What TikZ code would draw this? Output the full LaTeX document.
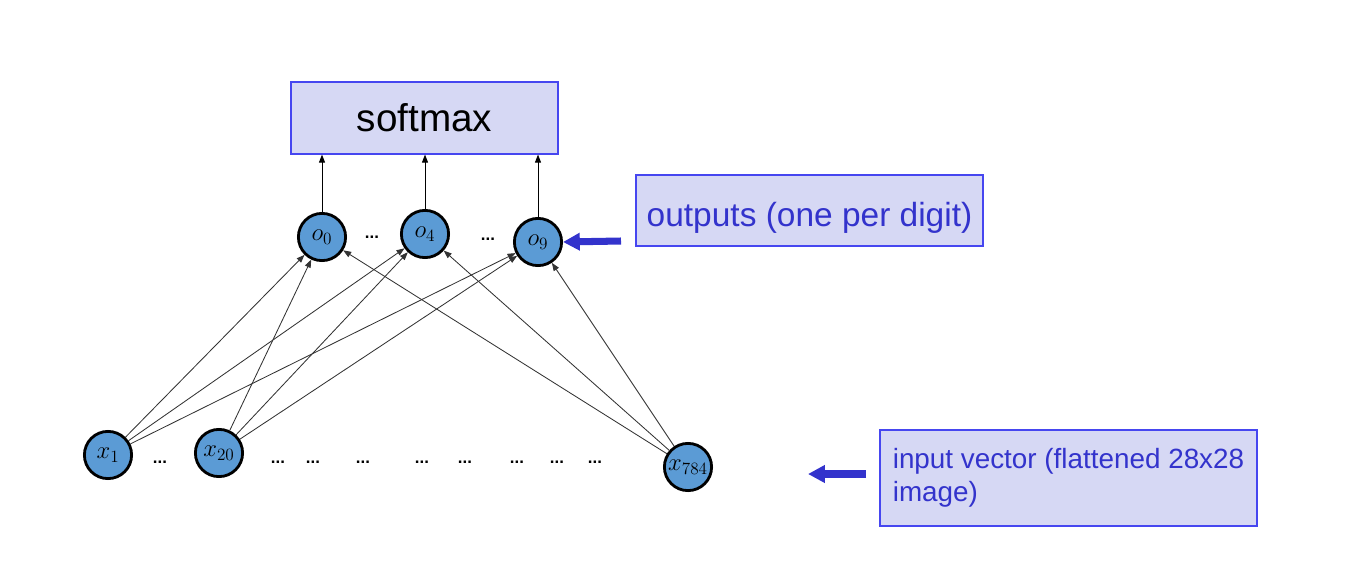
\RequirePackage{fix-cm}
\documentclass[tikz,border=0pt]{standalone}
\usepackage{fontspec}
\setmainfont{Liberation Sans}
\usepackage{amsmath}
\usetikzlibrary{positioning,arrows.meta}
\definecolor{SlideBlue}{RGB}{51,51,204}
\definecolor{BoxFill}{RGB}{214,216,244}
\definecolor{BoxLine}{RGB}{70,70,240}
\definecolor{NeuronBlue}{RGB}{91,155,213}

\begin{document}
\begin{tikzpicture}[x=0.025cm, y=-0.025cm]
	\tikzset{
		neuron/.style={
			shape=circle,
			draw=black,
			line width=2pt,
			fill=NeuronBlue,
			minimum size=1.18cm,
			inner sep=0pt,
			font=\fontsize{17.5}{17.5}\selectfont
		},
		smbox/.style={
			draw=BoxLine,
			line width=0.8pt,
			fill=BoxFill,
			minimum width=6.675cm,
			minimum height=1.8cm,
			font=\fontsize{27.5}{30}\selectfont
		},
		notebox/.style={
			draw=BoxLine,
			line width=0.8pt,
			fill=BoxFill,
			text=SlideBlue,
			align=left,
			inner sep=0pt
		},
		gap/.style={font=\fontsize{12}{12}\selectfont\bfseries},
		wedge/.style={draw=black!80, line width=0.6pt, -{Triangle[length=2mm,width=1.5mm]}},
		upedge/.style={draw=black, line width=0.6pt, -{Triangle[length=2mm,width=1.5mm]}},
		hintarrow/.style={draw=SlideBlue, line width=5pt, -{Triangle[length=4.2mm,width=4.2mm]}}
	}
	\useasboundingbox (0,0) rectangle (1364,586);
	
	% softmax and output layer
	\node[smbox] (softmax) at (424.5,118) {softmax};
	\node[neuron] (o0) at (322,237) {$o_0$};
	\node[neuron] (o4) at (425,234) {$o_4$};
	\node[neuron] (o9) at (538,242) {$o_9$};
	\node[gap] (dotsa) at (372,237) {...};
	\node[gap] (dotsb) at (488,239) {...};
	
	% input layer
	\node[neuron] (x1) at (108,455) {$x_1$};
	\node[neuron] (x20) at (219,453) {$x_{20}$};
	\node[neuron] (x784) at (688,467) {$x_{784}$};
	\node[gap] (dotsc) at (160,462) {...};
	\node[gap] (dotsd) at (278,462) {...};
	\node[gap] (dotse) at (313,462) {...};
	\node[gap] (dotsf) at (363,462) {...};
	\node[gap] (dotsg) at (422,462) {...};
	\node[gap] (dotsh) at (465,462) {...};
	\node[gap] (dotsi) at (517,462) {...};
	\node[gap] (dotsj) at (557,462) {...};
	\node[gap] (dotsk) at (595,462) {...};
	
	% weights
	\draw[wedge] (x1) -- (o0);
	\draw[wedge] (x1) -- (o4);
	\draw[wedge] (x1) -- (o9);
	\draw[wedge] (x20) -- (o0);
	\draw[wedge] (x20) -- (o4);
	\draw[wedge] (x20) -- (o9);
	\draw[wedge] (x784) -- (o0);
	\draw[wedge] (x784) -- (o4);
	\draw[wedge] (x784) -- (o9);
	
	\draw[upedge] (o0) -- (o0 |- softmax.south);
	\draw[upedge] (o4) -- (o4 |- softmax.south);
	\draw[upedge] (o9) -- (o9 |- softmax.south);
	
	% notes
	\node[notebox, minimum width=8.675cm, minimum height=1.775cm,
		text height=0.95cm, text depth=0.13cm,
		font=\fontsize{23.8}{26}\selectfont] (outnote) at (809.5,210.5) {outputs (one per digit)};
	\node[notebox, minimum width=9.425cm, minimum height=2.4cm,
		font=\fontsize{19.8}{23.5}\selectfont] (innote) at (1068.5,478) {input vector (flattened 28x28\\image)};
	\coordinate (outtail) at (621,241);
	\coordinate (intail) at (866,474);
	\coordinate (inhead) at (808,474);
	\draw[hintarrow] (outtail) -- (o9.east);
	\draw[hintarrow] (intail) -- (inhead);
\end{tikzpicture}
\end{document}
